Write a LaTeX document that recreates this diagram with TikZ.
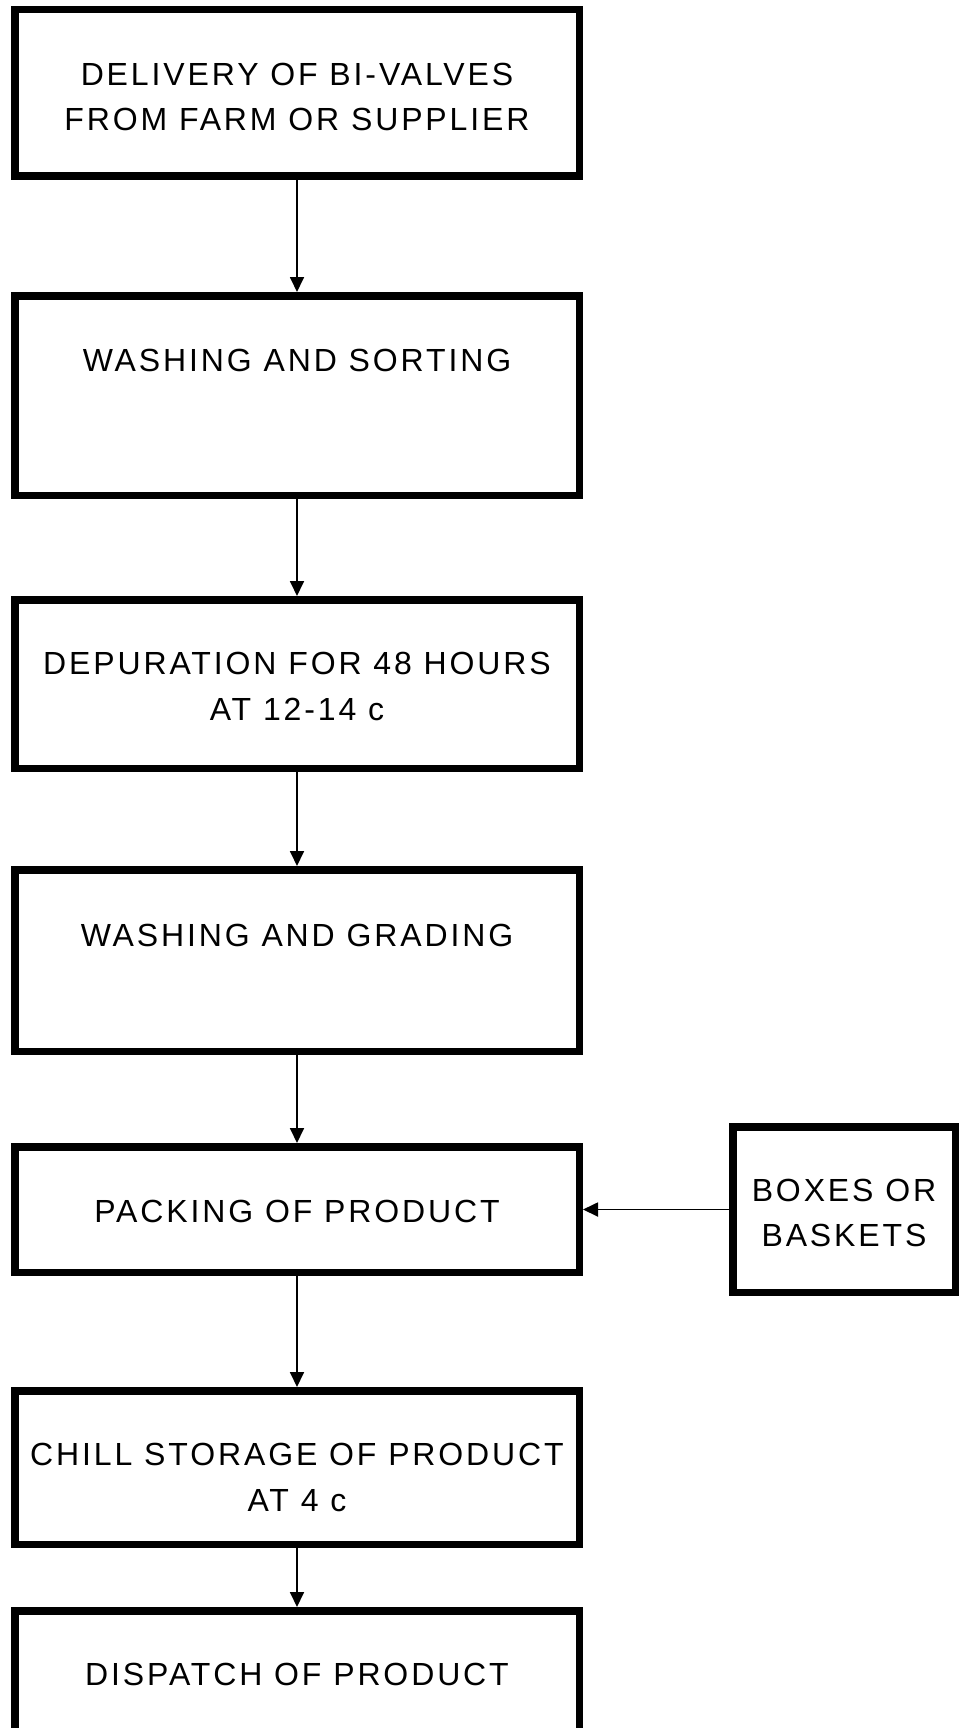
\documentclass[tikz,border=0pt]{standalone}
\usepackage{fontspec}
\usetikzlibrary{arrows.meta}
\newfontfamily\boxfont{Liberation Sans}[LetterSpace=9]
\tikzset{
  stagebox/.style={draw=black, line width=7.5pt, rectangle, inner sep=0pt, minimum width=564.5pt},
  sidebox/.style={draw=black, line width=7.5pt, rectangle, inner sep=0pt, minimum width=222.5pt, minimum height=165.5pt},
  lbl/.style={inner sep=0pt, align=center, font=\boxfont\fontsize{32}{45.5}\selectfont, text=black},
  flow/.style={draw=black, line width=1.8pt, -{Triangle[length=15pt,width=14pt]}}
}
\begin{document}
\begin{tikzpicture}[x=1pt,y=-1pt]
\useasboundingbox[fill=white] (0,0) rectangle (960,1728);
% boxes
\node[stagebox, minimum height=166.5pt] (b1) at (297,93) {};
\node[stagebox, minimum height=199.5pt] (b2) at (297,395.5) {};
\node[stagebox, minimum height=168.5pt] (b3) at (297,684) {};
\node[stagebox, minimum height=181.5pt] (b4) at (297,960.5) {};
\node[stagebox, minimum height=125.5pt] (b5) at (297,1209.5) {};
\node[stagebox, minimum height=153.5pt] (b6) at (297,1467.5) {};
\node[stagebox, minimum height=175.5pt] (b7) at (297,1698.5) {};
\node[sidebox] (rb) at (844,1209.5) {};
% labels
\node[lbl] (t1) at (297,97) {DELIVERY OF BI-VALVES\\FROM FARM OR SUPPLIER};
\node[lbl] (t2) at (297,360.2) {WASHING AND SORTING};
\node[lbl] (t3) at (297,686.3) {DEPURATION FOR 48 HOURS\\AT 12-14 c};
\node[lbl] (t4) at (297,935.2) {WASHING AND GRADING};
\node[lbl] (t5) at (297,1211.8) {PACKING OF PRODUCT};
\node[lbl] (t6) at (297,1477.3) {CHILL STORAGE OF PRODUCT\\AT 4 c};
\node[lbl] (t7) at (297,1674.5) {DISPATCH OF PRODUCT};
\node[lbl] (tr) at (844,1213.2) {BOXES OR\\BASKETS};
% connectors
\draw[flow] (b1.south) -- (b2.north);
\draw[flow] (b2.south) -- (b3.north);
\draw[flow] (b3.south) -- (b4.north);
\draw[flow] (b4.south) -- (b5.north);
\draw[flow] (b5.south) -- (b6.north);
\draw[flow] (b6.south) -- (b7.north);
\draw[flow] (rb.west) -- (b5.east);
\end{tikzpicture}
\end{document}
